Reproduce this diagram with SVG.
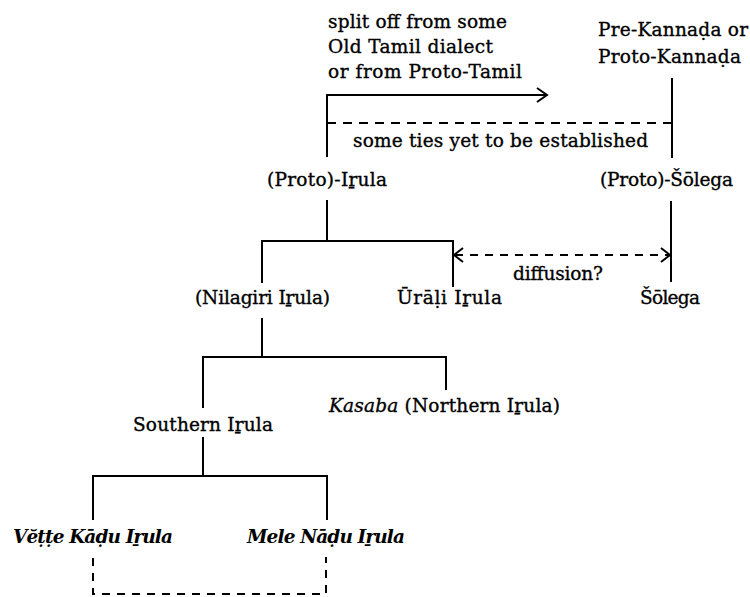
<svg xmlns="http://www.w3.org/2000/svg" width="750" height="597" viewBox="0 0 750 597">
<style>
text{font-family:"DejaVu Serif","Liberation Serif",serif;font-size:18.5px;fill:#000;stroke:#000;stroke-width:0.35}
.it{font-style:italic}
.bi{font-style:italic;font-weight:bold;stroke-width:0}
.ln{fill:none;stroke:#000;stroke-width:2}
.d1{stroke-dasharray:9 7}
.d2{stroke-dasharray:8 7}
.ah{fill:none;stroke:#000;stroke-width:2}
</style>
<rect width="750" height="597" fill="#fff"/>
<g id="connectors">
<path class="ln" d="M327,157 V95 H547"/>
<path class="ah" d="M537,88 L547,95 L537,102"/>
<path class="ln" d="M672,78 V158"/>
<path class="ln d1" d="M327,123 H672"/>
<path class="ln" d="M327,200 V241"/>
<path class="ln" d="M262,283 V241 H453 V287"/>
<path class="ln" d="M671,201 V282"/>
<path class="ln d2" d="M455,255 H669"/>
<path class="ah" d="M463,248 L454,255 L463,262"/>
<path class="ah" d="M661,248 L670,255 L661,262"/>
<path class="ln" d="M262,318 V357"/>
<path class="ln" d="M203,408 V357 H446 V390"/>
<path class="ln" d="M203,437 V476"/>
<path class="ln" d="M93,520 V476 H327 V520"/>
<path class="ln d2" d="M93,558 V594 H326 V557"/>
</g>
<g id="split-label">
<text x="328" y="28" textLength="179">split off from some</text>
<text x="328" y="53" textLength="165">Old Tamil dialect</text>
<text x="328" y="78" textLength="194">or from Proto-Tamil</text>
</g>
<g id="pre-kannada">
<text x="598" y="36" textLength="150">Pre-Kannaḍa or</text>
<text x="598" y="63" textLength="143">Proto-Kannaḍa</text>
</g>
<g id="ties-label">
<text x="353" y="147" textLength="295">some ties yet to be established</text>
</g>
<g id="proto-irula">
<text x="267" y="186" textLength="120">(Proto)-Iṟula</text>
</g>
<g id="proto-solega">
<text x="600" y="186" textLength="133">(Proto)-Šōlega</text>
</g>
<g id="diffusion-label">
<text x="513" y="280" textLength="90">diffusion?</text>
</g>
<g id="nilagiri-irula">
<text x="195" y="304" textLength="135">(Nilagiri Iṟula)</text>
</g>
<g id="urali-irula">
<text x="397" y="304" textLength="105">Ūrāḷi Iṟula</text>
</g>
<g id="solega">
<text x="640" y="304" textLength="60">Šōlega</text>
</g>
<g id="kasaba">
<text x="329" y="412" textLength="231"><tspan class="it">Kasaba</tspan> (Northern Iṟula)</text>
</g>
<g id="southern-irula">
<text x="133" y="431" textLength="140">Southern Iṟula</text>
</g>
<g id="vette-kadu-irula">
<text class="bi" x="13" y="543" textLength="160">Vĕṭṭe Kāḍu Iṟula</text>
</g>
<g id="mele-nadu-irula">
<text class="bi" x="247" y="543" textLength="158">Mele Nāḍu Iṟula</text>
</g>
</svg>
